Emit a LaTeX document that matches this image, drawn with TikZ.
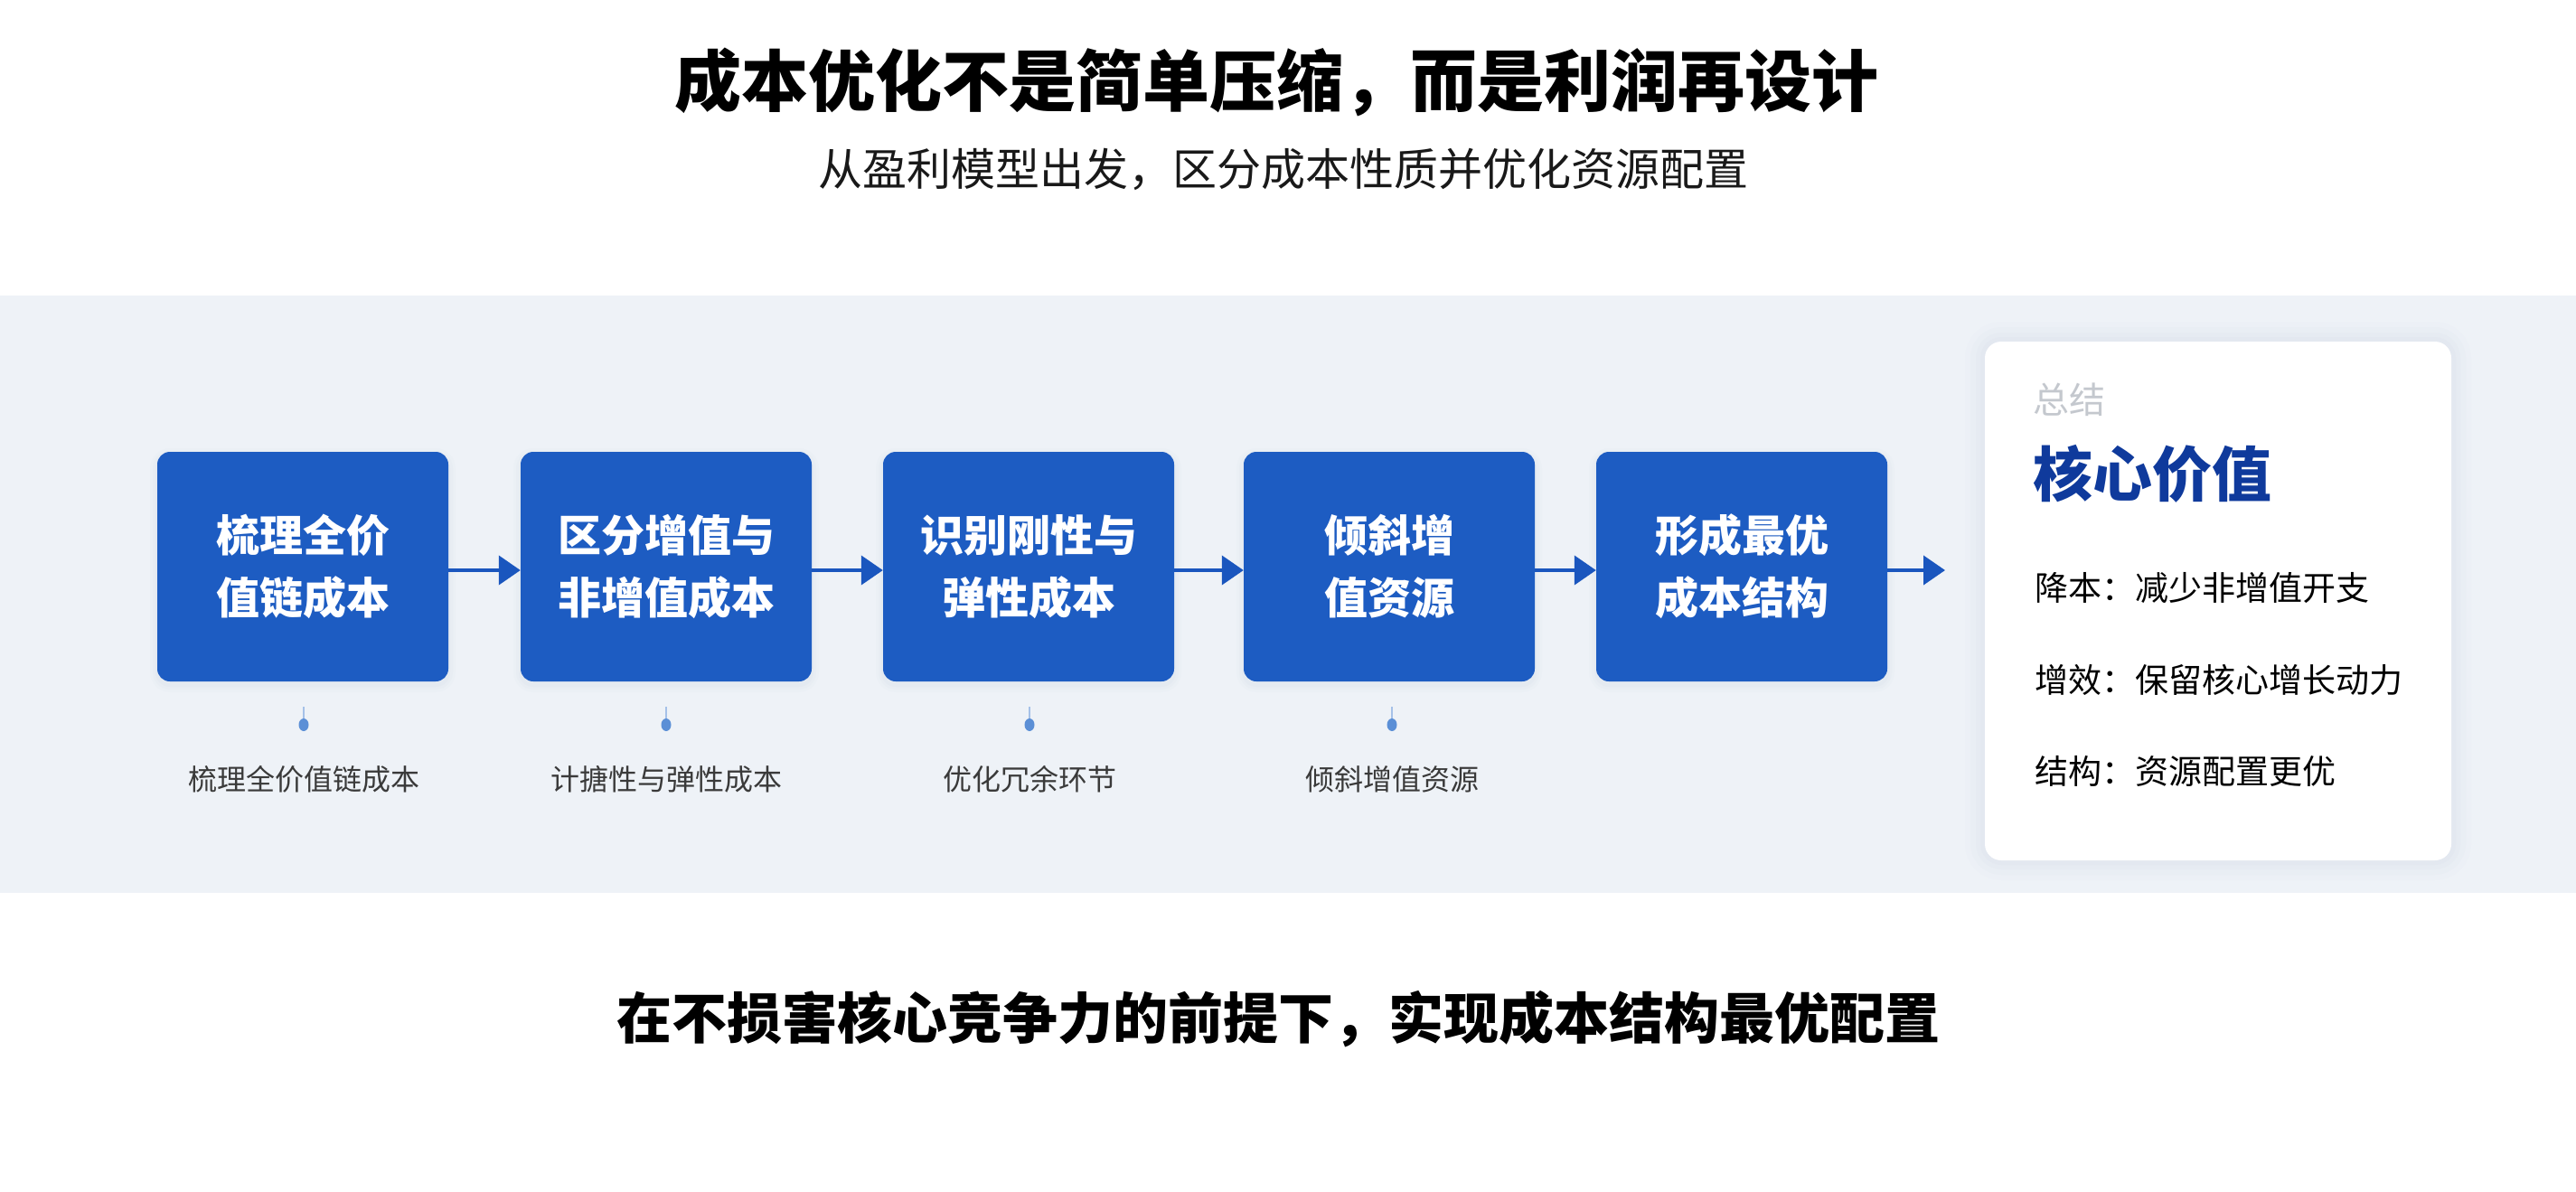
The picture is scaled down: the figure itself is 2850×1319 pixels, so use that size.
\documentclass[tikz,border=0pt]{standalone}
\usepackage{fontspec}
\setmainfont{Noto Sans CJK SC}
\usetikzlibrary{arrows.meta,shapes.geometric}
\definecolor{bandc}{HTML}{EEF2F7}
\definecolor{boxc}{HTML}{1D5CC2}
\definecolor{arrc}{HTML}{1A56BE}
\definecolor{pinc}{HTML}{5B8FD6}
\definecolor{headc}{HTML}{0F3A9C}
\definecolor{graytxt}{HTML}{C4C8CE}
\definecolor{labc}{HTML}{3A3A3A}
\definecolor{shadc}{HTML}{B8C6DC}
\tikzset{
  stepbox/.style={draw=none,fill=boxc,rounded corners=14pt,minimum width=322pt,minimum height=254pt,
    text=white,align=center,font=\fontsize{48}{69}\selectfont\bfseries},
  flowarrow/.style={draw=arrc,line width=4pt,-{Triangle[length=24pt,width=32pt]}},
  pindot/.style={ellipse,fill=pinc,inner sep=0pt,minimum width=11pt,minimum height=14pt},
  pinline/.style={draw=pinc!55,line width=1.5pt},
  sublabel/.style={text=labc,font=\fontsize{32}{36}\selectfont},
  carditem/.style={anchor=west,text=black,font=\fontsize{37}{40}\selectfont},
}
\begin{document}
\begin{tikzpicture}[x=1pt,y=-1pt]
\useasboundingbox (0,0) rectangle (2850,1319);
\fill[white] (0,0) rectangle (2850,1319);
% band
\fill[bandc] (0,327) rectangle (2850,988);
% titles
\node[font=\fontsize{74}{80}\selectfont\bfseries,text=black] (title) at (1412,91) {成本优化不是简单压缩，而是利润再设计};
\node[font=\fontsize{49}{54}\selectfont,text=black!90] (subtitle) at (1420,187) {从盈利模型出发，区分成本性质并优化资源配置};
% box shadows
\foreach \x in {335,737,1138,1537,1927}{
  \foreach \d/\o in {8/0.04,5/0.05,2/0.07}{
    \fill[shadc,opacity=\o,rounded corners=14pt+\d pt] (\x-161-\d,500-\d+4) rectangle (\x+161+\d,754+\d+4);
  }
}
% boxes
\node[stepbox] (b1) at (335,627) {梳理全价\\值链成本};
\node[stepbox] (b2) at (737,627) {区分增值与\\非增值成本};
\node[stepbox] (b3) at (1138,627) {识别刚性与\\弹性成本};
\node[stepbox] (b4) at (1537,627) {倾斜增\\值资源};
\node[stepbox] (b5) at (1927,627) {形成最优\\成本结构};
\coordinate (end) at (2152,631);
% arrows
\draw[flowarrow] (b1.east |- 0,631) -- (b2.west |- 0,631);
\draw[flowarrow] (b2.east |- 0,631) -- (b3.west |- 0,631);
\draw[flowarrow] (b3.east |- 0,631) -- (b4.west |- 0,631);
\draw[flowarrow] (b4.east |- 0,631) -- (b5.west |- 0,631);
\draw[flowarrow] (b5.east |- 0,631) -- (end);
% pins and labels
\foreach \i/\x/\t in {1/336/梳理全价值链成本,2/737/计搪性与弹性成本,3/1139/优化冗余环节,4/1540/倾斜增值资源}{
  \coordinate (pt\i) at (\x,782);
  \node[pindot] (p\i) at (\x,802) {};
  \draw[pinline] (pt\i) -- (p\i.north);
  \node[sublabel] (l\i) at (\x,862) {\t};
}
% summary card shadow
\foreach \d/\o in {22/0.03,16/0.04,10/0.05,5/0.06}{
  \fill[shadc,opacity=\o,rounded corners=18pt+\d pt] (2196-\d,378-\d) rectangle (2712+\d,952+\d);
}
\node[draw=none,fill=white,rounded corners=18pt,minimum width=516pt,minimum height=574pt] (card) at (2454,665) {};
\node[anchor=west,text=graytxt,font=\fontsize{40}{44}\selectfont] (sum) at (2246,442) {总结};
\node[anchor=west,text=headc,font=\fontsize{66}{72}\selectfont\bfseries] (head) at (2246,524) {核心价值};
\node[carditem] (c1) at (2248,650) {降本：减少非增值开支};
\node[carditem] (c2) at (2248,752) {增效：保留核心增长动力};
\node[carditem] (c3) at (2248,853) {结构：资源配置更优};
% bottom statement
\node[font=\fontsize{61}{68}\selectfont\bfseries,text=black] (bottom) at (1414,1128) {在不损害核心竞争力的前提下，实现成本结构最优配置};
\end{tikzpicture}
\end{document}
